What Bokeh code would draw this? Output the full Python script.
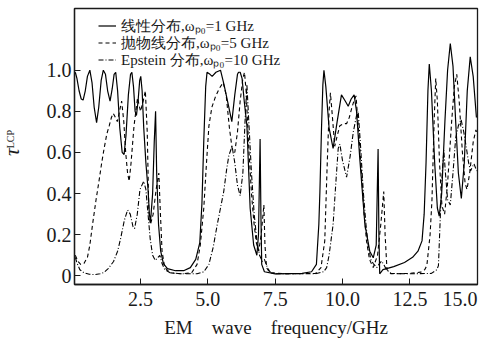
import math
from bokeh.plotting import figure
from bokeh.layouts import row
from bokeh.models import FixedTicker, Range1d, Legend, LegendItem
from bokeh.core.properties import value
from bokeh.embed import file_html
from bokeh.resources import INLINE

# Transmission coefficient of LCP wave for three plasma density profiles
freq_linear = [0.08, 0.14, 0.22, 0.3, 0.37, 0.45, 0.53, 0.62, 0.7, 0.78, 0.87, 0.95, 1.04, 1.12,
               1.2, 1.28, 1.37, 1.45, 1.52, 1.58, 1.65, 1.73, 1.82, 1.89, 1.96, 2.05, 2.13, 2.18,
               2.24, 2.3, 2.35, 2.41, 2.47, 2.51, 2.56, 2.62, 2.7, 2.78, 2.83, 2.87, 2.95, 3.01,
               3.06, 3.1, 3.17, 3.25, 3.35, 3.5, 3.8, 4.1, 4.35, 4.55, 4.7, 4.78, 4.85, 4.92,
               4.97, 5.08, 5.16, 5.3, 5.47, 5.6, 5.77, 5.89, 6.0, 6.1, 6.14, 6.2, 6.27, 6.35,
               6.45, 6.57, 6.7, 6.82, 6.88, 6.94, 6.97, 7.0, 7.1, 7.5, 8.5, 8.85, 9.03, 9.12,
               9.16, 9.22, 9.27, 9.31, 9.38, 9.5, 9.65, 9.8, 9.96, 10.1, 10.21, 10.32, 10.43,
               10.52, 10.64, 10.83, 11.01, 11.14, 11.25, 11.32, 11.35, 11.38, 11.5, 11.9, 12.3,
               12.6, 12.8, 12.95, 13.03, 13.1, 13.17, 13.22, 13.3, 13.42, 13.52, 13.59, 13.68,
               13.8, 13.9, 14.0, 14.1, 14.2, 14.3, 14.41, 14.52, 14.63, 14.74, 14.85, 14.97]
tau_linear = [0.99, 0.96, 0.9, 0.86, 0.855, 0.9, 0.97, 1.0, 0.94, 0.82, 0.745, 0.82, 0.95, 1.0,
              0.98, 0.9, 0.85, 0.91, 0.98, 0.99, 0.9, 0.72, 0.6, 0.59, 0.68, 0.88, 0.98, 0.99,
              0.92, 0.8, 0.78, 0.85, 0.95, 0.97, 0.9, 0.72, 0.55, 0.42, 0.3, 0.26, 0.4, 0.65,
              0.80, 0.5, 0.25, 0.12, 0.06, 0.035, 0.025, 0.025, 0.04, 0.08, 0.16, 0.35, 0.66, 0.92,
              0.99, 0.98, 0.97, 0.99, 1.0, 0.93, 0.825, 0.75, 0.88, 0.98, 0.99, 0.99, 0.96, 0.85,
              0.73, 0.33, 0.15, 0.10, 0.2, 0.665, 0.3, 0.056, 0.02, 0.01, 0.012, 0.02, 0.056, 0.25,
              0.41, 0.72, 0.93, 1.0, 0.92, 0.72, 0.62, 0.75, 0.88, 0.85, 0.825, 0.86, 0.88,
              0.8, 0.57, 0.25, 0.12, 0.088, 0.15, 0.617, 0.2, 0.01, 0.03, 0.045, 0.065,
              0.09, 0.12, 0.17, 0.3, 0.55, 0.9, 1.03, 0.9, 0.55, 0.33, 0.29, 0.4,
              0.75, 1.0, 1.13, 1.02, 0.75, 0.5, 0.376, 0.55, 0.9, 1.065, 0.97, 0.77]

freq_parabolic = [0.08, 0.18, 0.28, 0.4, 0.53, 0.62, 0.72, 0.85, 0.97, 1.06, 1.15, 1.25, 1.34, 1.42,
                  1.49, 1.57, 1.64, 1.72, 1.8, 1.88, 1.95, 2.02, 2.08, 2.15, 2.26, 2.39, 2.5, 2.6,
                  2.68, 2.75, 2.81, 2.87, 2.97, 3.08, 3.18, 3.24, 3.3, 3.4, 3.6, 4.0, 4.4, 4.6,
                  4.72, 4.85, 4.95, 5.04, 5.15, 5.28, 5.42, 5.57, 5.68, 5.8, 5.9, 6.0, 6.1, 6.2,
                  6.3, 6.36, 6.42, 6.52, 6.62, 6.71, 6.8, 6.89, 6.98, 7.08, 7.12, 7.18, 7.3, 8.0,
                  9.0, 9.2, 9.34, 9.42, 9.5, 9.55, 9.62, 9.71, 9.8, 9.9, 10.05, 10.15, 10.25,
                  10.33, 10.42, 10.5, 10.6, 10.71, 10.8, 10.89, 11.0, 11.14, 11.3, 11.42, 11.53,
                  11.58, 11.65, 11.8, 12.5, 12.9, 13.05, 13.13, 13.25, 13.32, 13.4, 13.46, 13.52,
                  13.6, 13.69, 13.79, 13.9, 14.05, 14.15, 14.24, 14.33, 14.45, 14.55, 14.62,
                  14.72, 14.85, 14.95, 15.0]
tau_parabolic = [0.10, 0.07, 0.056, 0.06, 0.09, 0.15, 0.25, 0.37, 0.47, 0.55, 0.62, 0.69, 0.73, 0.77,
                 0.79, 0.77, 0.75, 0.8, 0.85, 0.75, 0.6, 0.5, 0.46, 0.55, 0.73, 0.865, 0.8, 0.85,
                 0.90, 0.7, 0.31, 0.25, 0.3, 0.42, 0.50, 0.3, 0.12, 0.04, 0.015, 0.01, 0.015, 0.056,
                 0.15, 0.33, 0.55, 0.73, 0.82, 0.87, 0.91, 0.94, 0.88, 0.72, 0.62, 0.6, 0.7, 0.85,
                 0.96, 0.99, 0.9, 0.62, 0.4, 0.26, 0.16, 0.12, 0.2, 0.345, 0.15, 0.04, 0.015, 0.01,
                 0.012, 0.04, 0.17, 0.5, 0.8, 0.89, 0.78, 0.63, 0.68, 0.73, 0.74, 0.74, 0.77,
                 0.81, 0.85, 0.875, 0.7, 0.49, 0.3, 0.17, 0.08, 0.04, 0.1, 0.25, 0.41,
                 0.2, 0.03, 0.01, 0.012, 0.018, 0.03, 0.05, 0.2, 0.37, 0.75, 0.96, 0.85,
                 0.55, 0.34, 0.30, 0.45, 0.75, 0.92, 0.98, 0.85, 0.6, 0.45, 0.42,
                 0.5, 0.65, 0.71, 0.69]

freq_epstein = [0.08, 0.15, 0.25, 0.4, 0.6, 0.8, 1.0, 1.14, 1.3, 1.5, 1.65, 1.76, 1.9, 2.02, 2.12,
                2.22, 2.28, 2.38, 2.48, 2.55, 2.62, 2.7, 2.78, 2.86, 2.95, 3.05, 3.15, 3.22, 3.3,
                3.4, 3.6, 4.0, 4.6, 4.85, 5.04, 5.2, 5.35, 5.47, 5.59, 5.7, 5.78, 5.9, 6.0, 6.1,
                6.2, 6.3, 6.38, 6.45, 6.52, 6.62, 6.72, 6.82, 6.92, 7.02, 7.1, 7.18, 7.3, 7.5,
                9.0, 9.3, 9.41, 9.5, 9.65, 9.75, 9.84, 9.9, 10.0, 10.15, 10.28, 10.4, 10.52,
                10.58, 10.66, 10.77, 10.87, 10.95, 11.05, 11.14, 11.27, 11.37, 11.45, 11.55,
                11.63, 11.8, 12.5, 13.3, 13.5, 13.56, 13.63, 13.7, 13.76, 13.82, 13.9, 14.0,
                14.1, 14.2, 14.3, 14.4, 14.5, 14.6, 14.68, 14.75, 14.82, 14.88, 14.95, 15.0]
tau_epstein = [0.09, 0.06, 0.03, 0.015, 0.008, 0.006, 0.01, 0.016, 0.035, 0.07, 0.12, 0.18, 0.27, 0.32, 0.3,
               0.24, 0.23, 0.3, 0.42, 0.44, 0.46, 0.42, 0.3, 0.18, 0.1, 0.075, 0.09, 0.1, 0.06,
               0.03, 0.015, 0.01, 0.01, 0.02, 0.056, 0.14, 0.25, 0.33, 0.41, 0.52, 0.585, 0.63, 0.55, 0.44,
               0.39, 0.5, 0.75, 0.93, 0.75, 0.5, 0.3, 0.17, 0.1, 0.07, 0.08, 0.05, 0.02, 0.01,
               0.01, 0.02, 0.04, 0.1, 0.25, 0.45, 0.62, 0.64, 0.56, 0.48, 0.58, 0.7, 0.78,
               0.8, 0.65, 0.41, 0.25, 0.15, 0.08, 0.06, 0.04, 0.06, 0.072, 0.05,
               0.03, 0.012, 0.01, 0.012, 0.03, 0.05, 0.29, 0.5, 0.61, 0.5, 0.37, 0.345,
               0.5, 0.67, 0.73, 0.76, 0.7, 0.62, 0.55, 0.51, 0.53, 0.545, 0.52, 0.51]

x_ticks = [2.5, 5.0, 7.5, 10.0, 12.5, 15.0]
x_tick_labels = ["2.5", "5.0", "7.5", "10.0", "12.5", "15.0\u2002"]
y_ticks = [0, 0.2, 0.4, 0.6, 0.8, 1.0]
y_tick_labels = ["0", "0.2", "0.4", "0.6", "0.8", "1.0"]

legend_labels = ["线性分布,ωₚ₀=1 GHz", "抛物线分布,ωₚ₀=5 GHz", "Epstein 分布,ωₚ₀=10 GHz"]

SERIF = "Liberation Serif"
INK = "#1a1a1a"

# narrow strip on the left that carries the rotated y-axis title (pixel-like coordinates)
title_strip = figure(width=25, height=340, output_backend="svg", toolbar_location=None,
                     x_range=Range1d(0, 25), y_range=Range1d(0, 340),
                     x_axis_type=None, y_axis_type=None, min_border=0)
title_strip.outline_line_color = None
title_strip.xgrid.visible = False
title_strip.ygrid.visible = False
title_strip.text(x=[10.5], y=[163], text=["τ"], angle=math.pi / 2,
                 text_font=value(SERIF), text_font_style="italic", text_font_size="22px",
                 text_color=INK, text_align="center", text_baseline="middle")
title_strip.text(x=[10], y=[179], text=["LCP"], angle=math.pi / 2,
                 text_font=value(SERIF), text_font_size="10px",
                 text_color=INK, text_align="center", text_baseline="middle")

p = figure(width=462, height=340, output_backend="svg", toolbar_location=None,
           x_range=Range1d(0.05, 15.01), y_range=Range1d(-0.042, 1.30),
           min_border_left=49, min_border_right=10, min_border_top=8, min_border_bottom=53)
p.background_fill_color = "white"
p.border_fill_color = "white"
p.outline_line_color = INK
p.outline_line_width = 1.3
p.xgrid.visible = False
p.ygrid.visible = False

r1 = p.line(freq_linear, tau_linear, line_color="black", line_width=1.2)
r2 = p.line(freq_parabolic, tau_parabolic, line_color="black", line_width=1.1, line_dash="4 3")
r3 = p.line(freq_epstein, tau_epstein, line_color="black", line_width=1.1, line_dash="5 2 1 2")

for ax in (p.xaxis[0], p.yaxis[0]):
    ax.axis_line_color = INK
    ax.axis_line_width = 1.3
    ax.major_tick_in = 6
    ax.major_tick_out = 0
    ax.major_tick_line_color = INK
    ax.minor_tick_line_color = None
    ax.major_label_text_font = SERIF
    ax.major_label_text_font_size = "20px"
    ax.major_label_text_color = INK

p.xaxis.ticker = FixedTicker(ticks=x_ticks)
p.xaxis.major_label_overrides = dict(zip(x_ticks, x_tick_labels))
p.xaxis.major_label_standoff = 3
p.xaxis.axis_label = "EM\u2003wave\u2003frequency/GHz"
p.xaxis.axis_label_text_font = SERIF
p.xaxis.axis_label_text_font_style = "normal"
p.xaxis.axis_label_text_font_size = "19px"
p.xaxis.axis_label_text_color = INK
p.xaxis.axis_label_standoff = 4

p.yaxis.ticker = FixedTicker(ticks=y_ticks)
p.yaxis.major_label_overrides = dict(zip(y_ticks, y_tick_labels))
p.yaxis.major_label_standoff = 3

# one legend box per entry so each row sits at its own height
renderers = [r1, r2, r3]
legend_y = [248, 231, 214]
for rend, lab, ly in zip(renderers, legend_labels, legend_y):
    lg = Legend(items=[LegendItem(label=lab, renderers=[rend])],
                location=(24, ly), orientation="vertical",
                padding=0, margin=0, spacing=0,
                glyph_width=18, glyph_height=17, label_height=17, label_standoff=5,
                label_text_font=SERIF, label_text_font_size="15px", label_text_color=INK,
                background_fill_alpha=0, border_line_alpha=0)
    p.add_layout(lg)

layout = row(title_strip, p, spacing=0)
open("out.html", "w").write(file_html(layout, INLINE))
